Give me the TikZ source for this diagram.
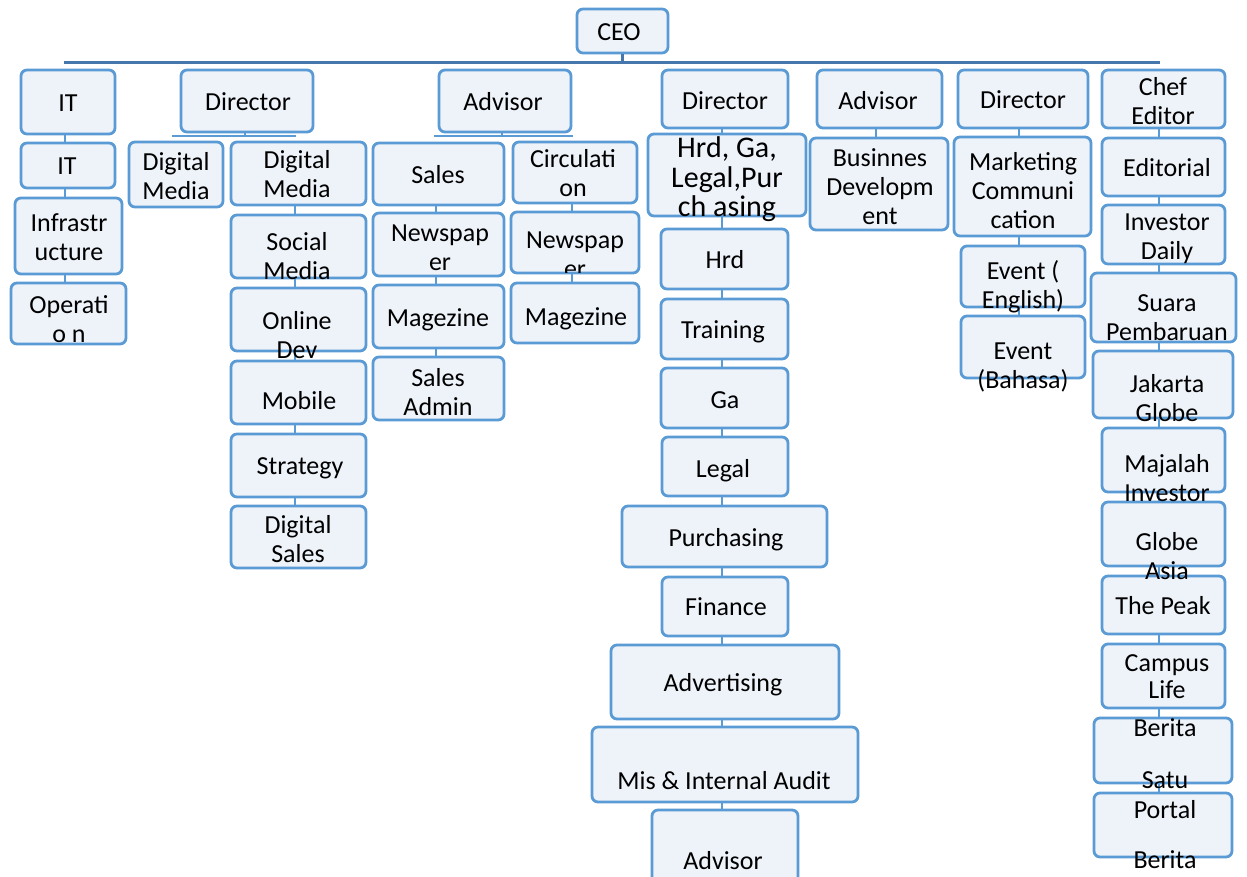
\documentclass[tikz,border=0pt]{standalone}
\usepackage{fontspec}
\setmainfont{Carlito}
\usetikzlibrary{fit}
\definecolor{bxline}{HTML}{5B9BD5}
\definecolor{bxfill}{HTML}{EEF3FA}
\definecolor{busline}{HTML}{4677AC}
\newcommand{\mlines}[1]{\begin{tabular}[t]{@{}c@{}}#1\end{tabular}}
\begin{document}
\begin{tikzpicture}[x=0.5pt,y=-0.5pt,
  box/.style={draw=bxline, fill=bxfill, line width=1.4pt, rounded corners=3pt, inner sep=0pt},
  txt/.style={anchor=base, inner sep=0pt, font=\fontsize{13pt}{14.5pt}\selectfont},
  bigtxt/.style={anchor=base, inner sep=0pt, font=\fontsize{15pt}{14pt}\selectfont},
  bus/.style={draw=busline, line width=1.5pt},
  link/.style={draw=bxline, line width=1pt}]
\useasboundingbox (0,0) rectangle (1247,877);

% ---------- boxes ----------
\node[box, fit={(577,9)(668,53)}] (ceo) {};
\node[box, fit={(21,70)(115,134)}] (it1) {};
\node[box, fit={(181,70)(313,132)}] (dir1) {};
\node[box, fit={(439,70)(571,132)}] (adv1) {};
\node[box, fit={(662,70)(788,128)}] (dir2) {};
\node[box, fit={(817,70)(942,128)}] (adv2) {};
\node[box, fit={(958,70)(1088,128)}] (dir3) {};
\node[box, fit={(1102,70)(1225,128)}] (chef) {};
% IT
\node[box, fit={(21,143)(115,188)}] (it2) {};
\node[box, fit={(15,198)(122,274)}] (infra) {};
\node[box, fit={(11,283)(126,344)}] (oper) {};
% Director 1
\node[box, fit={(129,142)(223,207)}] (dml) {};
\node[box, fit={(231,142)(366,205)}] (dmr) {};
\node[box, fit={(231,215)(366,278)}] (soc) {};
\node[box, fit={(231,288)(366,351)}] (onl) {};
\node[box, fit={(231,361)(366,424)}] (mob) {};
\node[box, fit={(231,434)(366,497)}] (stra) {};
\node[box, fit={(231,506)(366,568)}] (dsal) {};
% Advisor 1
\node[box, fit={(373,143)(504,205)}] (sales) {};
\node[box, fit={(373,213)(504,276)}] (news1) {};
\node[box, fit={(373,285)(504,348)}] (mag1) {};
\node[box, fit={(373,357)(504,420)}] (sadm) {};
\node[box, fit={(513,142)(637,203)}] (circ) {};
\node[box, fit={(511,212)(639,273)}] (news2) {};
\node[box, fit={(511,283)(639,343)}] (mag2) {};
% Director 2
\node[box, fit={(648,134)(806,216)}] (hgl) {};
\node[box, fit={(661,229)(788,289)}] (hrd) {};
\node[box, fit={(661,299)(788,359)}] (trn) {};
\node[box, fit={(661,368)(788,428)}] (ga) {};
\node[box, fit={(662,437)(788,496)}] (legal) {};
\node[box, fit={(622,506)(827,567)}] (purch) {};
\node[box, fit={(662,577)(788,636)}] (fin) {};
\node[box, fit={(611,645)(839,719)}] (adver) {};
\node[box, fit={(592,727)(858,802)}] (mis) {};
\node[box, fit={(652,810)(798,888)}] (advb) {};
% Advisor 2
\node[box, fit={(810,138)(948,230)}] (bdev) {};
% Director 3
\node[box, fit={(954,137)(1091,236)}] (mkt) {};
\node[box, fit={(961,246)(1085,307)}] (eve) {};
\node[box, fit={(961,316)(1085,378)}] (evb) {};
% Chef Editor
\node[box, fit={(1102,138)(1225,196)}] (edit) {};
\node[box, fit={(1102,205)(1225,264)}] (invd) {};
\node[box, fit={(1091,273)(1236,342)}] (suara) {};
\node[box, fit={(1093,351)(1233,418)}] (jak) {};
\node[box, fit={(1102,428)(1225,492)}] (maj) {};
\node[box, fit={(1102,502)(1225,566)}] (gasia) {};
\node[box, fit={(1102,576)(1225,634)}] (peak) {};
\node[box, fit={(1102,644)(1225,708)}] (camp) {};
\node[box, fit={(1094,718)(1232,783)}] (bsat) {};
\node[box, fit={(1094,793)(1232,857)}] (portal) {};

% ---------- connectors ----------
\coordinate (busL) at (64,63);
\coordinate (busR) at (1160,63);
\coordinate (d1L) at (172,136);
\coordinate (d1R) at (296,136);
\coordinate (a1L) at (434,136);
\coordinate (a1R) at (573,136);
\coordinate (cIT) at (65,0);
\coordinate (cDa) at (295,0);
\coordinate (cAa) at (436,0);
\coordinate (cAb) at (572,0);
\coordinate (cDb) at (722,0);
\coordinate (cAc) at (876,0);
\coordinate (cDc) at (1019,0);
\coordinate (cCE) at (1159,0);

\draw[bus] (ceo.south) -- (ceo.south |- busL);
\draw[bus] (busL) -- (busR);
\draw[link] (dir1.south -| 245,0) -- (d1L -| 245,0);
\draw[link] (d1L) -- (d1R);
\draw[link] (adv1.south -| 502,0) -- (a1L -| 502,0);
\draw[link] (a1L) -- (a1R);

\foreach \a/\b/\c in {it1/it2/cIT, it2/infra/cIT, infra/oper/cIT,
  dmr/soc/cDa, soc/onl/cDa, onl/mob/cDa, mob/stra/cDa, stra/dsal/cDa,
  sales/news1/cAa, news1/mag1/cAa, mag1/sadm/cAa,
  circ/news2/cAb, news2/mag2/cAb,
  dir2/hgl/cDb, hgl/hrd/cDb, hrd/trn/cDb, trn/ga/cDb, ga/legal/cDb, legal/purch/cDb,
  purch/fin/cDb, fin/adver/cDb, adver/mis/cDb, mis/advb/cDb,
  adv2/bdev/cAc,
  dir3/mkt/cDc, mkt/eve/cDc, eve/evb/cDc,
  chef/edit/cCE, edit/invd/cCE, invd/suara/cCE, suara/jak/cCE, jak/maj/cCE,
  maj/gasia/cCE, gasia/peak/cCE, peak/camp/cCE, camp/bsat/cCE, bsat/portal/cCE}
  \draw[link] (\a.south -| \c) -- (\b.north -| \c);

% ---------- texts ----------
\node[txt] (ceo-t) at (619,41) {CEO};
\node[txt] (it1-t) at (68,112) {IT};
\node[txt] (dir1-t) at (248,111) {Director};
\node[txt] (adv1-t) at (503,111) {Advisor};
\node[txt] (dir2-t) at (725,110) {Director};
\node[txt] (adv2-t) at (878,110) {Advisor};
\node[txt] (dir3-t) at (1023,109) {Director};
\node[txt] (chef-t) at (1163,96) {\mlines{Chef\\Editor}};

\node[txt] (it2-t) at (67,175) {IT};
\node[txt] (infra-t) at (69,232) {\mlines{Infrastr\\ucture}};
\node[txt] (oper-t) at (69,314) {\mlines{Operati\\o n}};

\node[txt] (dml-t) at (176,171) {\mlines{Digital\\Media}};
\node[txt] (dmr-t) at (297,169) {\mlines{Digital\\Media}};
\node[txt] (soc-t) at (297,250) {\mlines{Social\\Media}};
\node[txt] (onl-t) at (297,329) {\mlines{Online\\Dev}};
\node[txt] (mob-t) at (299,409) {Mobile};
\node[txt] (stra-t) at (300,474) {Strategy};
\node[txt] (dsal-t) at (298,533) {\mlines{Digital\\Sales}};

\node[txt] (sales-t) at (438,184) {Sales};
\node[txt] (news1-t) at (440,242) {\mlines{Newspap\\er}};
\node[txt] (mag1-t) at (438,326) {Magezine};
\node[txt] (sadm-t) at (438,386) {\mlines{Sales\\Admin}};
\node[txt] (circ-t) at (573,168) {\mlines{Circulati\\on}};
\begin{scope}
\clip (511,212) rectangle (639,273);
\node[txt] (news2-t) at (575,249) {\mlines{Newspap\\er}};
\end{scope}
\node[txt] (mag2-t) at (576,325) {Magezine};

\node[bigtxt] (hgl-t) at (727,158) {\mlines{Hrd, Ga,\\Legal,Pur\\ch asing}};
\node[txt] (hrd-t) at (725,269) {Hrd};
\node[txt] (trn-t) at (723,338) {Training};
\node[txt] (ga-t) at (725,408) {Ga};
\node[txt] (legal-t) at (723,477) {Legal};
\node[txt] (purch-t) at (726,546) {Purchasing};
\node[txt] (fin-t) at (726,615) {Finance};
\node[txt] (adver-t) at (723,691) {Advertising};
\node[txt] (mis-t) at (724,789) {Mis \& Internal Audit};
\node[txt] (advb-t) at (723,869) {Advisor};

\node[txt] (bdev-t) at (880,167) {\mlines{Businnes\\Developm\\ent}};

\node[txt] (mkt-t) at (1023,171) {\mlines{Marketing\\Communi\\cation}};
\node[txt] (eve-t) at (1023,279) {\mlines{Event (\\English)}};
\node[txt] (evb-t) at (1023,359) {\mlines{Event\\(Bahasa)}};

\node[txt] (edit-t) at (1167,177) {Editorial};
\node[txt] (invd-t) at (1167,231) {\mlines{Investor\\Daily}};
\node[txt] (suara-t) at (1167,311) {\mlines{Suara\\Pembaruan}};
\node[txt] (jak-t) at (1167,392) {\mlines{Jakarta\\Globe}};
\node[txt] (maj-t) at (1167,472) {\mlines{Majalah\\Investor}};
\node[txt] (gasia-t) at (1167,550) {\mlines{Globe\\Asia}};
\node[txt] (peak-t) at (1163,614) {The Peak};
\node[txt] (camp-t) at (1167,671) {\mlines{Campus\\[-1pt]Life}};
\node[txt] (bsat-t) at (1165,736) {\mlines{Berita\\[11.5pt]Satu}};
\node[txt] (portal-t) at (1165,818) {\mlines{Portal\\[10.5pt]Berita}};
\end{tikzpicture}
\end{document}
